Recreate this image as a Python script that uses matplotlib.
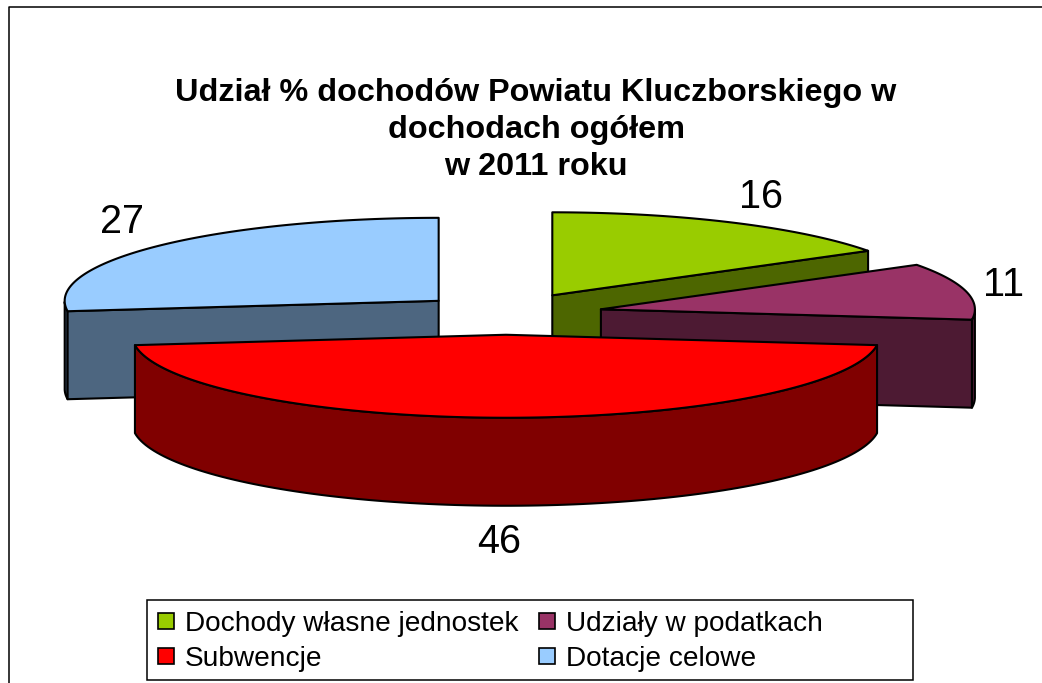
import numpy as np
import matplotlib
matplotlib.use('Agg')
import matplotlib.pyplot as plt
from matplotlib.patches import Polygon, Patch, Rectangle

plt.rcParams['font.family'] = ['Liberation Sans', 'DejaVu Sans']

labels = ['Dochody własne jednostek', 'Udziały w podatkach', 'Subwencje', 'Dotacje celowe']
values = [16, 11, 46, 27]
explode = [0.257, 0.26, 0.25, 0.24]
top_colors = ['#99CC00', '#993366', '#FF0000', '#99CCFF']
dark_colors = ['#4D6600', '#4D1A33', '#800000', '#4D6680']
label_pos = [(761, 197), (1004, 285), (499, 542), (122, 222)]
title = 'Udział % dochodów Powiatu Kluczborskiego w\ndochodach ogółem\nw 2011 roku'

cx, cy = 506, 314
rx, ry = 374, 83
depth = 88


def point(x0, y0, ang):
    return x0 + rx * np.sin(ang), y0 - ry * np.cos(ang)


fig = plt.figure(figsize=(10.42, 6.83), dpi=100)
ax = fig.add_axes([0, 0, 1, 1])
ax.set_xlim(0, 1042)
ax.set_ylim(683, 0)
ax.axis('off')

# frame of the chart area, cut by the picture on right and bottom
ax.plot([8.5, 8.5, 1042], [683, 6.5, 6.5], color='black', lw=1.1)

fracs = np.array(values) / sum(values) * 2 * np.pi
starts = np.concatenate([[0], np.cumsum(fracs)[:-1]])
kw = dict(edgecolor='black', linewidth=1.5, joinstyle='round')

for i in [0, 1, 3, 2]:
    a0, a1 = starts[i], starts[i] + fracs[i]
    mid = (a0 + a1) / 2
    x0 = cx + explode[i] * rx * np.sin(mid)
    y0 = cy - explode[i] * ry * np.cos(mid)
    ts = np.linspace(a0, a1, 120)
    ax_x, ax_y = point(x0, y0, ts)

    # outer rim, only the part turned to the viewer
    front = ts[(ts >= np.pi / 2) & (ts <= 3 * np.pi / 2)]
    if len(front):
        fx, fy = point(x0, y0, front)
        rim = np.column_stack([np.r_[fx, fx[::-1]], np.r_[fy, fy[::-1] + depth]])
        ax.add_patch(Polygon(rim, facecolor=dark_colors[i], **kw))

    # cut faces that look to the front
    for ang in (a0, a1):
        px, py = point(x0, y0, ang)
        if (ang == a1 and i < 2) or (ang == a0 and i == 3):
            face = [(x0, y0), (px, py), (px, py + depth), (x0, y0 + depth)]
            ax.add_patch(Polygon(face, facecolor=dark_colors[i], **kw))

    wedge = np.column_stack([np.r_[x0, ax_x], np.r_[y0, ax_y]])
    ax.add_patch(Polygon(wedge, facecolor=top_colors[i], **kw))

for v, (lx, ly) in zip(values, label_pos):
    ax.text(lx, ly, str(v), fontsize=28.5, ha='center', va='center', color='black')

ax.text(536, 130, title, fontsize=23.3, fontweight='bold', ha='center', va='center',
        multialignment='center', linespacing=1.29)

ax.add_patch(Rectangle((146.5, 600), 766.5, 79.5, facecolor='white', edgecolor='black', linewidth=1.1, zorder=4))

handles = [Patch(facecolor=c, edgecolor='black', linewidth=1.2) for c in top_colors]
# legend fills column by column, reference reads row by row
order = [0, 2, 1, 3]
leg = ax.legend([handles[k] for k in order], [labels[k] for k in order], ncol=2,
                loc='upper left', bbox_to_anchor=(152 / 1042, 1 - 605 / 683),
                borderaxespad=0, borderpad=0.2, fontsize=20.2, frameon=False,
                handlelength=0.58, handleheight=0.5, handletextpad=0.38,
                labelspacing=0.34, columnspacing=0.74)
leg.set_zorder(5)

fig.savefig('out.png', dpi=100)
